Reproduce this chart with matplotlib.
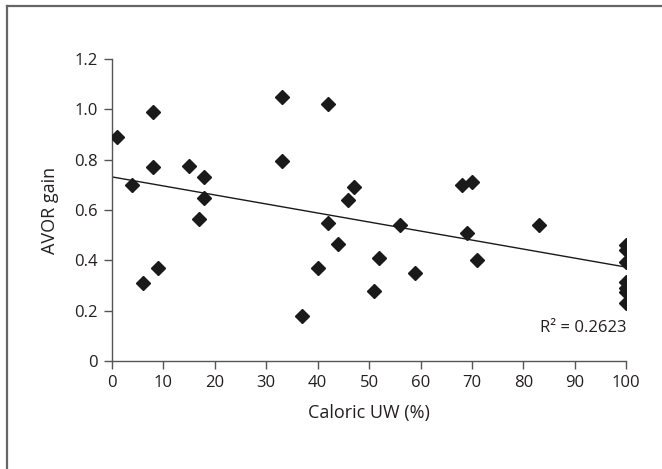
import matplotlib
matplotlib.use("Agg")
import matplotlib.pyplot as plt
from matplotlib.lines import Line2D
import numpy as np

plt.rcParams['font.family'] = ['Open Sans', 'DejaVu Sans']

caloric_uw = [1, 4, 6, 8, 8, 9, 15, 17, 18, 18, 33, 33, 37, 40, 42, 42, 44, 46, 47,
              51, 52, 56, 59, 68, 69, 70, 71, 83, 100, 100, 100, 100, 100, 100, 100]
avor_gain = [0.89, 0.70, 0.31, 0.99, 0.77, 0.37, 0.775, 0.565, 0.73, 0.65, 1.05, 0.795,
             0.18, 0.37, 1.02, 0.55, 0.465, 0.64, 0.69, 0.28, 0.41, 0.54, 0.35, 0.70,
             0.51, 0.71, 0.40, 0.54, 0.461, 0.441, 0.395, 0.315, 0.289, 0.275, 0.229]
x_ticks = [0, 10, 20, 30, 40, 50, 60, 70, 80, 90, 100]
y_ticks = [0, 0.2, 0.4, 0.6, 0.8, 1.0, 1.2]
y_tick_labels = ['0', '0.2', '0.4', '0.6', '0.8', '1.0', '1.2']
r2_text = "R² = 0.2623"

fig = plt.figure(figsize=(6.62, 4.69), dpi=100)
ax = fig.add_axes([0.169, 0.230, 0.777, 0.644])

x = np.array(caloric_uw, dtype=float)
y = np.array(avor_gain, dtype=float)
slope, intercept = np.polyfit(x, y, 1)
xl = np.array([0, 100])
ax.plot(xl, slope * xl + intercept, color='#1a1a1a', lw=1.0, zorder=2)
ax.plot(x, y, linestyle='none', marker='D', ms=7.2, color='#1a1a1a', zorder=3)

ax.set_xlim(0, 100)
ax.set_ylim(0, 1.2)
ax.set_xticks(x_ticks)
ax.set_yticks(y_ticks)
ax.set_yticklabels(y_tick_labels)
for s in ['top', 'right']:
    ax.spines[s].set_visible(False)
for s in ['left', 'bottom']:
    ax.spines[s].set_color('#555555')
    ax.spines[s].set_linewidth(1.0)
ax.tick_params(direction='out', length=6, width=1.0, color='#555555',
               labelsize=12, labelcolor='#231f20', pad=4)
ax.set_xlabel('Caloric UW (%)', fontsize=13, color='#231f20', labelpad=9)
ax.set_ylabel('AVOR gain', fontsize=13, color='#231f20', labelpad=11)
ax.text(100, 0.13, r2_text, ha='right', va='center', fontsize=12, color='#231f20')
ax.patch.set_alpha(0)

fig.add_artist(Line2D([7/662, 7/662], [0, 1 - 6/469], transform=fig.transFigure,
                      color='#666666', lw=1.6))
fig.add_artist(Line2D([7/662, 1], [1 - 6/469, 1 - 6/469], transform=fig.transFigure,
                      color='#666666', lw=1.6))

fig.savefig('out.png', dpi=100)
